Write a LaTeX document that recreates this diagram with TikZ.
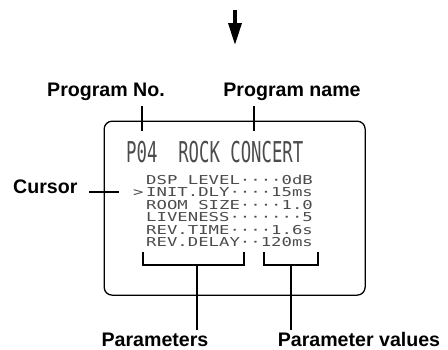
\documentclass[tikz,border=0pt]{standalone}
\usepackage{fontspec}
\setmainfont{Liberation Sans}
\newfontfamily\lcdfont{DejaVu Sans Mono}
\usetikzlibrary{arrows.meta}
\tikzset{
  lbl/.style={font=\fontsize{19.6}{20}\selectfont\bfseries, inner sep=0pt},
  lead/.style={line width=2pt},
  brk/.style={line width=2.8pt},
  lcd/.style={inner sep=0pt, anchor=base west, text=black!70},
}
\newcommand{\lcdrow}[1]{\scalebox{1}[0.71]{\fontsize{17.3}{18}\lcdfont #1}}
\newcommand{\lcdtitle}[1]{\scalebox{1}[1.66]{\fontsize{17.3}{18}\lcdfont #1}}
\begin{document}
\begin{tikzpicture}[x=1pt,y=-1pt]
\useasboundingbox (0,0) rectangle (448,349);
% top arrow
\coordinate (at) at (235,10);
\coordinate (ab) at (235,45);
\draw[line width=3.5pt, -{Triangle[length=22pt,width=13pt]}] (at) -- (ab);
% labels
\node[lbl, anchor=base] (pno) at (106,96) {Program No.};
\node[lbl, anchor=base] (pname) at (292,96) {Program name};
\node[lbl, anchor=base west] (cur) at (13,193) {Cursor};
\node[lbl, anchor=base] (par) at (155,346) {Parameters};
\node[lbl, anchor=base] (pval) at (359,346) {Parameter values};
% display box
\node[draw, line width=1.3pt, rounded corners=8pt, minimum width=261pt, minimum height=174pt, anchor=north west, inner sep=0pt] (box) at (103.5,120.5) {};
% display text
\node[lcd] (title) at (126,162) {\lcdtitle{P04\ \ ROCK CONCERT}};
\node[lcd] (r1) at (146,184) {\lcdrow{DSP LEVEL····0dB}};
\node[lcd] (r2) at (146,196.5) {\lcdrow{INIT.DLY····15ms}};
\node[lcd] (r3) at (146,209) {\lcdrow{ROOM SIZE····1.0}};
\node[lcd] (r4) at (146,221.5) {\lcdrow{LIVENESS·······5}};
\node[lcd] (r5) at (146,234) {\lcdrow{REV.TIME····1.6s}};
\node[lcd] (r6) at (146,246.5) {\lcdrow{REV.DELAY··120ms}};
\node[lcd] (arrowc) at (133,196.5) {\lcdrow{>}};
% leaders
\coordinate (l1t) at (142,106);
\coordinate (l1b) at (142,131);
\coordinate (l2t) at (254,106);
\coordinate (l2b) at (254,131);
\draw[lead] (l1t) -- (l1b);
\draw[lead] (l2t) -- (l2b);
\coordinate (cl) at (89,192);
\coordinate (cr) at (119,192);
\draw[lead] (cl) -- (cr);
% brackets
\draw[brk] (143,252) -- (143,265) -- (244,265) -- (244,252);
\draw[brk] (264,252) -- (264,265) -- (318,265) -- (318,252);
\coordinate (s1t) at (197,265);
\coordinate (s1b) at (197,330);
\coordinate (s2t) at (291,265);
\coordinate (s2b) at (291,330);
\draw[lead, line width=2.4pt] (s1t) -- (s1b);
\draw[lead, line width=2.4pt] (s2t) -- (s2b);
\end{tikzpicture}
\end{document}
